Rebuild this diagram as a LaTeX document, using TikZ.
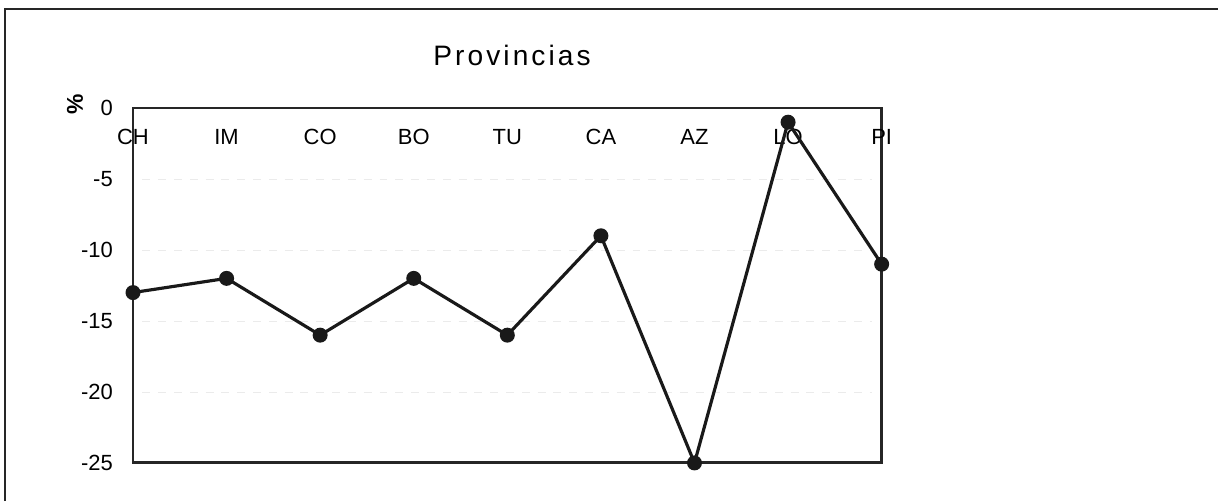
\documentclass[tikz,border=0pt]{standalone}
\usepackage{fontspec}
\setmainfont{Liberation Sans}

\begin{document}
\begin{tikzpicture}[x=0.02cm,y=-0.02cm,font=\fontsize{12.5}{14}\selectfont,
	dot/.style={fill=black!90,circle,inner sep=0pt,minimum size=0.3cm},
	gridline/.style={black!8,line width=0.5pt,dash pattern=on 4.5pt off 4.5pt},
	frameline/.style={black!85,line width=1.7pt}]
		\useasboundingbox (0,0) rectangle (1218,501);
		\draw[black!85,line width=0.8pt] (5,501) |- (1218,9);
		\node (title) at (512,55) {\fontsize{16}{18}\selectfont\addfontfeature{LetterSpace=11}Provincias};
		\node[rotate=90,font=\fontsize{13}{15}\selectfont\bfseries] (unit) at (75,104) {\%};
		\begin{scope}[shift={(133,108)},x=1.872cm,y=0.284cm]
		% grid and tick labels
		\foreach \v in {-5,-10,-15,-20}
			\draw[gridline] (0.1,\v) -- (7.9,\v);
		\foreach \v in {0,-5,-10,-15,-20,-25}
			\node[anchor=east] (tick\v) at (-0.15,\v) {\v};
		\draw[frameline] (0,0) rectangle (8,-25);
		% categories
		\foreach \c [count=\i from 0] in {CH,IM,CO,BO,TU,CA,AZ,LO,PI}
			\node (lab\c) at (\i,-2.05) {\c};
		% data
		\node[dot] (CH) at (0,-13) {};
		\node[dot] (IM) at (1,-12) {};
		\node[dot] (CO) at (2,-16) {};
		\node[dot] (BO) at (3,-12) {};
		\node[dot] (TU) at (4,-16) {};
		\node[dot] (CA) at (5,-9) {};
		\node[dot] (AZ) at (6,-25) {};
		\node[dot] (LO) at (7,-1) {};
		\node[dot] (PI) at (8,-11) {};
		\draw[black!90,line width=1.8pt,line join=round] (CH.center) -- (IM.center) -- (CO.center) -- (BO.center)
			-- (TU.center) -- (CA.center) -- (AZ.center) -- (LO.center) -- (PI.center);
		\end{scope}
\end{tikzpicture}
\end{document}
